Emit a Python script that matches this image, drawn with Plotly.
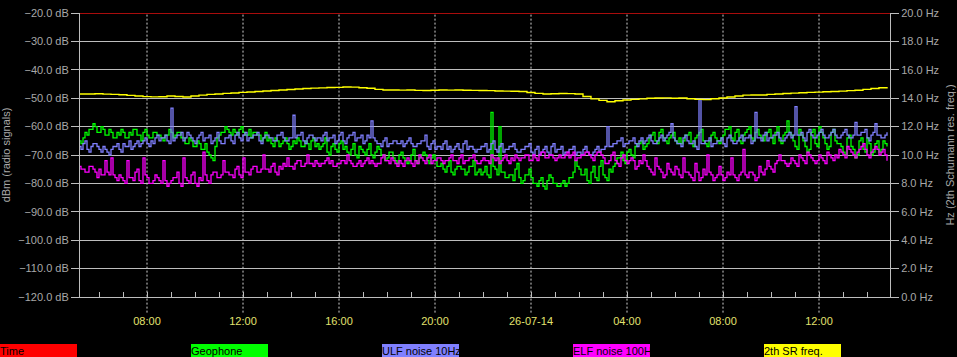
import pandas as pd
import plotly.graph_objects as go

START = "2014-07-25 05:10"

# Geophone (dBm), 5-minute samples
geophone = [
    -65, -66, -64, -62, -63, -61, -61, -59, -60, -62, -62, -60, -61, -63, -63, -61, -62, -64, -64, -62,
    -63, -61, -62, -64, -64, -62, -63, -61, -61, -63, -63, -65, -62, -61, -63, -64, -64, -62, -62, -63,
    -63, -64, -65, -63, -63, -61, -62, -64, -63, -62, -62, -64, -64, -66, -66, -64, -65, -67, -67, -65,
    -66, -68, -68, -66, -69, -70, -71, -72, -67, -64, -63, -62, -62, -60, -61, -62, -63, -61, -62, -63,
    -61, -60, -62, -63, -63, -61, -64, -62, -62, -63, -63, -65, -64, -62, -65, -64, -66, -67, -64, -65,
    -67, -66, -65, -64, -66, -68, -67, -65, -66, -64, -65, -67, -67, -65, -66, -68, -65, -64, -67, -66,
    -68, -67, -66, -64, -69, -70, -67, -66, -68, -69, -66, -65, -68, -67, -69, -70, -68, -66, -70, -71,
    -67, -68, -69, -70, -68, -66, -70, -71, -69, -67, -68, -70, -70, -72, -71, -69, -69, -71, -72, -73,
    -70, -69, -71, -72, -73, -72, -70, -68, -72, -73, -71, -70, -69, -70, -72, -73, -71, -70, -72, -74,
    -74, -73, -75, -76, -74, -72, -76, -77, -75, -74, -74, -75, -75, -77, -76, -74, -74, -72, -77, -76,
    -75, -77, -76, -74, -77, -78, -55, -74, -75, -77, -60, -76, -76, -78, -78, -77, -77, -79, -75, -73,
    -78, -80, -79, -77, -77, -75, -78, -80, -80, -81, -79, -78, -81, -82, -79, -77, -78, -80, -80, -81,
    -81, -80, -79, -81, -80, -78, -78, -76, -72, -74, -75, -77, -77, -75, -79, -80, -76, -74, -78, -79,
    -74, -72, -77, -78, -79, -75, -76, -74, -73, -71, -71, -69, -72, -73, -69, -68, -70, -71, -67, -66,
    -66, -65, -68, -67, -66, -64, -63, -62, -65, -66, -62, -61, -64, -65, -66, -64, -63, -62, -65, -66,
    -64, -66, -65, -63, -63, -62, -66, -67, -64, -63, -62, -61, -65, -66, -67, -65, -63, -62, -64, -65,
    -66, -64, -63, -61, -61, -60, -64, -65, -62, -61, -65, -66, -63, -62, -61, -60, -64, -65, -62, -61,
    -63, -64, -65, -63, -62, -61, -64, -66, -62, -60, -65, -66, -63, -62, -58, -62, -63, -65, -67, -68,
    -61, -63, -65, -67, -69, -68, -62, -61, -66, -67, -60, -62, -64, -66, -68, -67, -62, -61, -65, -66,
    -66, -67, -69, -70, -64, -63, -67, -68, -71, -70, -65, -64, -68, -69, -64, -66, -70, -69, -66, -65,
    -69, -68, -65, -66, -67,
]

# ULF noise 10Hz (dBm), 5-minute samples
ulf = [
    -67, -68, -66, -65, -68, -69, -67, -66, -66, -67, -68, -69, -67, -68, -69, -70, -68, -67, -67, -66,
    -68, -69, -66, -67, -67, -65, -68, -67, -66, -65, -67, -66, -65, -64, -66, -67, -65, -66, -64, -63,
    -65, -64, -64, -63, -65, -66, -53.5, -65, -64, -63, -63, -62, -65, -64, -62, -63, -64, -65, -66, -64,
    -63, -62, -65, -64, -64, -63, -66, -65, -64, -62, -65, -66, -66, -64, -64, -63, -65, -66, -63, -62,
    -64, -65, -63, -62, -65, -64, -64, -63, -63, -62, -65, -66, -64, -63, -63, -64, -64, -65, -65, -63,
    -63, -62, -64, -65, -65, -64, -64, -56, -64, -63, -63, -62, -65, -66, -64, -63, -63, -64, -65, -64,
    -64, -65, -63, -62, -65, -64, -64, -63, -66, -65, -63, -62, -65, -66, -64, -63, -63, -62, -65, -64,
    -64, -63, -66, -65, -63, -64, -58, -64, -65, -66, -66, -67, -65, -64, -67, -66, -66, -65, -65, -66,
    -66, -65, -67, -66, -65, -64, -66, -67, -67, -66, -66, -65, -65, -63, -67, -68, -66, -65, -68, -67,
    -67, -68, -66, -65, -68, -67, -69, -68, -67, -66, -68, -69, -66, -65, -68, -67, -67, -68, -69, -68,
    -68, -67, -67, -66, -69, -68, -66, -65, -68, -69, -67, -66, -69, -68, -68, -67, -67, -66, -68, -69,
    -69, -68, -68, -67, -67, -66, -69, -70, -68, -67, -70, -69, -68, -67, -69, -70, -67, -66, -69, -68,
    -68, -67, -70, -69, -69, -68, -68, -67, -70, -69, -69, -70, -68, -67, -69, -70, -70, -69, -68, -67,
    -69, -68, -68, -67, -60, -67, -67, -66, -66, -65, -65, -64, -67, -66, -66, -65, -65, -64, -66, -67,
    -65, -64, -66, -65, -64, -63, -65, -66, -66, -65, -64, -63, -65, -64, -63, -62, -59, -64, -65, -66,
    -66, -67, -64, -63, -65, -66, -66, -65, -67, -68, -50.5, -66, -66, -65, -65, -64, -67, -66, -66, -65,
    -65, -64, -66, -67, -64, -63, -65, -66, -66, -65, -64, -63, -65, -64, -64, -63, -66, -65, -55, -64,
    -64, -65, -63, -62, -65, -64, -64, -63, -63, -62, -64, -65, -65, -64, -63, -62, -64, -63, -53, -63,
    -63, -62, -64, -65, -62, -61, -63, -64, -64, -63, -62, -61, -63, -64, -64, -63, -62, -61, -63, -64,
    -64, -63, -62, -61, -63, -64, -64, -63, -58.5, -63, -63, -62, -62, -61, -64, -65, -63, -62, -59, -63,
    -63, -64, -64, -63, -62,
]

# ELF noise 100Hz (dBm), 5-minute samples
elf = [
    -74, -75, -75, -76, -76, -74, -74, -75, -76, -78, -75, -77, -77, -72, -76, -77, -71, -77, -78, -79,
    -77, -78, -79, -80, -72, -78, -78, -79, -76, -75, -79, -80, -71, -77, -78, -80, -80, -79, -77, -78,
    -79, -80, -72, -79, -81, -80, -79, -78, -78, -76, -80, -81, -71, -78, -79, -80, -77, -76, -80, -81,
    -78, -79, -69, -77, -79, -80, -77, -76, -76, -78, -78, -77, -72, -76, -76, -77, -77, -78, -75, -74,
    -77, -78, -71, -76, -76, -77, -75, -74, -74, -76, -76, -75, -70, -75, -75, -76, -74, -73, -76, -77,
    -74, -75, -73, -74, -71, -74, -74, -75, -73, -72, -72, -74, -74, -73, -70, -73, -73, -74, -72, -73,
    -74, -73, -73, -72, -71, -73, -72, -74, -74, -73, -73, -72, -72, -73, -70, -72, -73, -74, -74, -73,
    -72, -74, -73, -72, -71, -73, -72, -73, -74, -73, -73, -71, -70, -72, -72, -73, -71, -72, -73, -74,
    -72, -73, -74, -72, -71, -72, -73, -74, -72, -73, -70, -71, -72, -73, -71, -70, -73, -72, -72, -71,
    -71, -72, -73, -72, -72, -71, -70, -72, -72, -73, -71, -70, -73, -72, -72, -71, -71, -70, -72, -73,
    -73, -72, -71, -72, -72, -73, -70, -71, -72, -71, -73, -72, -71, -70, -72, -73, -71, -72, -70, -71,
    -72, -71, -71, -70, -70, -72, -72, -70, -71, -72, -70, -69, -69, -71, -71, -70, -70, -71, -72, -71,
    -70, -71, -71, -70, -69, -71, -70, -69, -72, -71, -71, -70, -70, -69, -69, -70, -71, -72, -70, -69,
    -69, -70, -71, -73, -73, -72, -70, -69, -72, -73, -74, -71, -70, -72, -73, -72, -71, -72, -75, -74,
    -72, -73, -70, -72, -74, -75, -76, -77, -71, -74, -75, -76, -78, -77, -73, -75, -76, -77, -74, -75,
    -77, -78, -71, -76, -76, -77, -78, -79, -73, -76, -79, -78, -75, -77, -70, -76, -77, -79, -78, -77,
    -74, -77, -79, -78, -76, -77, -71, -77, -78, -79, -77, -76, -68, -77, -78, -76, -76, -77, -79, -78,
    -74, -76, -77, -75, -72, -74, -75, -76, -73, -72, -70, -72, -72, -73, -74, -73, -71, -72, -73, -74,
    -70, -71, -72, -73, -69, -70, -71, -72, -73, -72, -70, -71, -72, -73, -69, -70, -71, -72, -70, -71,
    -68, -69, -70, -71, -67, -68, -69, -70, -71, -69, -68, -67, -66, -68, -70, -71, -69, -68, -67, -68,
    -70, -69, -68, -70, -72,
]

# 2nd Schumann resonance frequency (Hz), 20-minute samples
sr_freq = [
    14.30, 14.30, 14.31, 14.29, 14.27, 14.24, 14.20, 14.15, 14.11, 14.09,
    14.10, 14.15, 14.12, 14.08, 14.15, 14.22, 14.27, 14.30, 14.34, 14.37,
    14.41, 14.44, 14.47, 14.51, 14.54, 14.58, 14.61, 14.65, 14.68, 14.71,
    14.73, 14.75, 14.76, 14.79, 14.78, 14.74, 14.70, 14.62, 14.58, 14.58,
    14.57, 14.58, 14.55, 14.54, 14.56, 14.58, 14.57, 14.58, 14.56, 14.55,
    14.54, 14.53, 14.51, 14.50, 14.49, 14.47, 14.40, 14.34, 14.30, 14.31,
    14.33, 14.32, 14.30, 14.12, 13.95, 13.85, 13.75, 13.82, 13.87, 13.92,
    13.95, 14.00, 14.01, 14.02, 14.00, 14.01, 13.96, 13.92, 13.90, 13.96,
    14.01, 14.08, 14.16, 14.22, 14.23, 14.23, 14.27, 14.30, 14.33, 14.36,
    14.38, 14.41, 14.43, 14.45, 14.47, 14.50, 14.53, 14.56, 14.62, 14.68,
    14.74, 14.79,
]

time_level = [-20, -20]
x_range = ["2014-07-25 05:12:30", "2014-07-26 14:57:30"]

tick_vals = ["2014-07-25 08:00", "2014-07-25 12:00", "2014-07-25 16:00",
             "2014-07-25 20:00", "2014-07-26 00:00", "2014-07-26 04:00",
             "2014-07-26 08:00", "2014-07-26 12:00"]
tick_text = ["08:00", "12:00", "16:00", "20:00", "26-07-14", "04:00", "08:00", "12:00"]

legend_names = ["Time", "Geophone", "ULF noise 10Hz", "ELF noise 100H", "2th SR freq."]
legend_colors = ["#ff0000", "#00ff00", "#8080ff", "#ff00ff", "#ffff00"]

t_geo = pd.date_range(START, periods=len(geophone), freq="5min")
t_ulf = pd.date_range(START, periods=len(ulf), freq="5min")
t_elf = pd.date_range(START, periods=len(elf), freq="5min")
t_sr = pd.date_range(START, periods=len(sr_freq), freq="20min")

FONT = "Liberation Sans, Arial, sans-serif"
GRAY = "#a8a8a8"
GRID = "#bdbdbd"

fig = go.Figure()
fig.add_trace(go.Scatter(x=x_range, y=time_level, name=legend_names[0], mode="lines",
                         line=dict(color="#e01010", width=1.5)))
fig.add_trace(go.Scatter(x=t_geo, y=geophone, name=legend_names[1], mode="lines",
                         line=dict(color=legend_colors[1], width=1.3, shape="hv")))
fig.add_trace(go.Scatter(x=t_ulf, y=ulf, name=legend_names[2], mode="lines",
                         line=dict(color=legend_colors[2], width=1.3, shape="hv")))
fig.add_trace(go.Scatter(x=t_elf, y=elf, name=legend_names[3], mode="lines",
                         line=dict(color=legend_colors[3], width=1.3, shape="hv")))
fig.add_trace(go.Scatter(x=t_sr, y=sr_freq, name=legend_names[4], mode="lines", yaxis="y2",
                         line=dict(color=legend_colors[4], width=1.4, shape="hv")))

shapes = [dict(type="line", xref="x", yref="paper", x0=tv, x1=tv, y0=-0.055, y1=1,
               line=dict(color="#d0d0d0", width=1, dash="2px,2px"), layer="below")
          for tv in tick_vals]

PLOT_L, PLOT_W = 80, 810
PLOT_B, PLOT_H = 297, 284
annotations = []
for k, (nm, col) in enumerate(zip(legend_names, legend_colors)):
    px = 191 * k
    annotations.append(dict(
        text=nm, xref="paper", yref="paper",
        x=(px - PLOT_L) / PLOT_W, y=(PLOT_B - 344) / PLOT_H,
        xanchor="left", yanchor="top", showarrow=False, align="left",
        width=77, height=14, bgcolor=col, borderpad=0, borderwidth=0,
        font=dict(family=FONT, size=11, color="#000000")))

fig.update_layout(
    width=957, height=357,
    margin=dict(l=80, r=67, t=13, b=60, autoexpand=False),
    paper_bgcolor="#000000", plot_bgcolor="#000000",
    showlegend=False,
    font=dict(family=FONT, size=11, color=GRAY),
    shapes=shapes, annotations=annotations,
    xaxis=dict(
        type="date", range=x_range,
        tickmode="array", tickvals=tick_vals, ticktext=tick_text,
        ticks="outside", ticklen=14, tickcolor="rgba(0,0,0,0)",
        tickfont=dict(family=FONT, size=11, color="#e2e26e"),
        showgrid=False, zeroline=False,
        showline=True, linecolor=GRID, linewidth=1,
        minor=dict(ticks="inside", ticklen=5, tickcolor=GRID,
                   tick0="2014-07-25 00:00", dtick=3600000, showgrid=False),
    ),
    yaxis=dict(
        range=[-120, -20], dtick=10, tickformat=".1f", ticksuffix=" dB",
        ticks="outside", ticklen=8, tickcolor=GRID,
        showgrid=True, gridcolor=GRID, gridwidth=1, zeroline=False,
        showline=True, linecolor=GRID, linewidth=1,
        title=dict(text="dBm (radio signals)", standoff=6,
                   font=dict(family=FONT, size=11, color=GRAY)),
        tickfont=dict(family=FONT, size=11, color=GRAY),
    ),
    yaxis2=dict(
        range=[0, 20], dtick=2, tickformat=".1f", ticksuffix=" Hz",
        overlaying="y", side="right",
        ticks="outside", ticklen=8, tickcolor=GRID,
        showgrid=False, zeroline=False,
        showline=True, linecolor=GRID, linewidth=1,
        title=dict(text="Hz (2th Schumann res. freq.)", standoff=8,
                   font=dict(family=FONT, size=11, color=GRAY)),
        tickfont=dict(family=FONT, size=11, color=GRAY),
    ),
)

fig.write_html("out.html")
